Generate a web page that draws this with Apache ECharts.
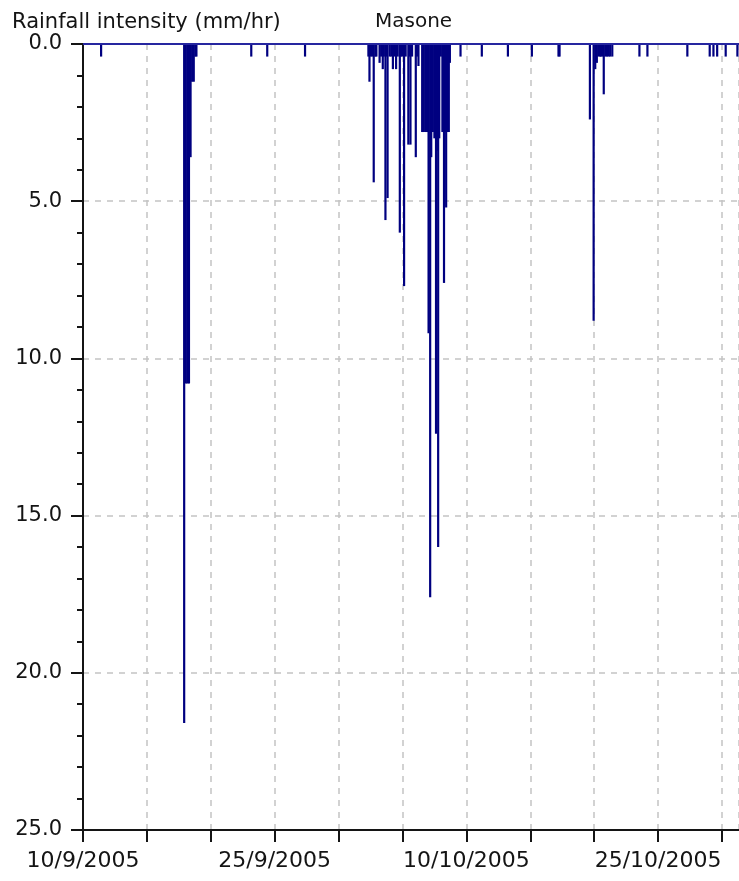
<!DOCTYPE html>
<html>
<head>
<meta charset="utf-8">
<title>Masone rainfall intensity</title>
<script src="https://cdn.jsdelivr.net/npm/echarts@6/dist/echarts.min.js"></script>
<style>
  html, body { margin: 0; padding: 0; background: #ffffff; }
  #chart { width: 739px; height: 881px; }
</style>
</head>
<body>
<div id="chart"></div>
<script>
// Rainfall intensity at Masone, autumn 2005 (mm/hr), one entry per reading time
const times = [
  '2005-09-11 10:00',
  '2005-09-17 22:00', '2005-09-18 01:00', '2005-09-18 04:00', '2005-09-18 07:00',
  '2005-09-18 10:00', '2005-09-18 13:00', '2005-09-18 16:00', '2005-09-18 19:00',
  '2005-09-18 21:00',
  '2005-09-23 04:00', '2005-09-24 10:00', '2005-09-27 09:00',
  '2005-10-02 08:00', '2005-10-02 10:00', '2005-10-02 13:00', '2005-10-02 16:00',
  '2005-10-02 18:00', '2005-10-02 21:00', '2005-10-02 23:00', '2005-10-03 05:00',
  '2005-10-03 08:00', '2005-10-03 11:00', '2005-10-03 13:00', '2005-10-03 16:00',
  '2005-10-03 18:00', '2005-10-03 20:00', '2005-10-04 00:00', '2005-10-04 03:00',
  '2005-10-04 06:00', '2005-10-04 09:00', '2005-10-04 12:00', '2005-10-04 15:00',
  '2005-10-04 19:00', '2005-10-04 21:00', '2005-10-05 00:00', '2005-10-05 03:00',
  '2005-10-05 06:00', '2005-10-05 11:00', '2005-10-05 13:00', '2005-10-05 15:00',
  '2005-10-05 18:00', '2005-10-06 01:00', '2005-10-06 03:00', '2005-10-06 06:00',
  '2005-10-06 13:00', '2005-10-06 16:00', '2005-10-06 19:00', '2005-10-06 22:00',
  '2005-10-07 01:00', '2005-10-07 04:00', '2005-10-07 06:00', '2005-10-07 09:00',
  '2005-10-07 12:00', '2005-10-07 15:00', '2005-10-07 17:00', '2005-10-07 19:00',
  '2005-10-07 21:00', '2005-10-08 00:00', '2005-10-08 03:00', '2005-10-08 06:00',
  '2005-10-08 08:00', '2005-10-08 10:00', '2005-10-08 12:00', '2005-10-08 15:00',
  '2005-10-08 17:00', '2005-10-09 13:00',
  '2005-10-11 05:00', '2005-10-13 06:00', '2005-10-15 03:00', '2005-10-17 05:00',
  '2005-10-17 07:00',
  '2005-10-19 16:00', '2005-10-19 23:00', '2005-10-20 02:00', '2005-10-20 05:00',
  '2005-10-20 08:00', '2005-10-20 11:00', '2005-10-20 13:00', '2005-10-20 16:00',
  '2005-10-20 18:00', '2005-10-20 21:00', '2005-10-21 00:00', '2005-10-21 03:00',
  '2005-10-21 06:00', '2005-10-21 10:00',
  '2005-10-23 13:00', '2005-10-24 04:00', '2005-10-27 07:00', '2005-10-29 01:00',
  '2005-10-29 08:00', '2005-10-29 15:00', '2005-10-30 07:00', '2005-10-31 05:00'
];

const intensity = [
  0.4,
  21.6, 10.8, 10.8, 10.8,
  3.6, 1.2, 1.2, 0.4,
  0.4,
  0.4, 0.4, 0.4,
  0.4, 1.2, 0.4, 0.4,
  4.4, 0.4, 0.4, 0.6,
  0.4, 0.8, 0.4, 5.6,
  0.4, 4.9, 0.4, 0.4,
  0.8, 0.4, 0.8, 0.4,
  6.0, 0.4, 0.4, 7.7,
  0.4, 3.2, 0.4, 3.2,
  0.4, 3.6, 0.4, 0.7,
  2.8, 2.8, 2.8, 2.8,
  9.2, 17.6, 3.6, 2.8,
  3.0, 12.4, 3.4, 16.0,
  3.0, 0.4, 2.8, 7.6,
  2.8, 5.2, 2.8, 2.8,
  0.6, 0.4,
  0.4, 0.4, 0.4, 0.4,
  0.4,
  2.4, 8.8, 0.8, 0.6,
  0.4, 0.4, 0.4, 0.4,
  1.6, 0.4, 0.4, 0.4,
  0.4, 0.4,
  0.4, 0.4, 0.4, 0.4,
  0.4, 0.4, 0.4, 0.4
];

// Date labels shown every third tick (ticks every 5 days)
const dateLabels = ['10/9/2005', '25/9/2005', '10/10/2005', '25/10/2005'];

const startDate = '2005-09-10 00:00';
const endDate = '2005-10-31 08:00';

function toUTC(s) {
  const [d, t] = s.split(' ');
  const [y, m, day] = d.split('-').map(Number);
  const [hh, mm] = t.split(':').map(Number);
  return Date.UTC(y, m - 1, day, hh, mm);
}
const DAY = 86400000;
const t0 = toUTC(startDate);
const dayOf = s => (toUTC(s) - t0) / DAY;

const seriesData = times.map((s, i) => [dayOf(s), intensity[i]]);

const FONT = 'DejaVu Sans';
const INK = '#141414';
const BAR_PX = 2.2;
const chart = echarts.init(document.getElementById('chart'), null, { renderer: 'canvas' });

// Each reading hangs from the zero line as a thin column
function renderColumn(params, api) {
  const top = api.coord([api.value(0), 0]);
  const bottom = api.coord([api.value(0), api.value(1)]);
  return {
    type: 'rect',
    shape: { x: top[0] - BAR_PX / 2, y: top[1], width: BAR_PX, height: bottom[1] - top[1] },
    style: { fill: '#000080' }
  };
}

chart.setOption({
  animation: false,
  backgroundColor: '#ffffff',
  title: [
    {
      text: 'Rainfall intensity (mm/hr)',
      left: 7, top: 7,
      textStyle: { fontFamily: FONT, fontSize: 21, fontWeight: 'normal', color: INK }
    },
    {
      text: 'Masone',
      left: 370, top: 7,
      textStyle: { fontFamily: FONT, fontSize: 20, fontWeight: 'normal', color: INK }
    }
  ],
  grid: { left: 83, right: 0, top: 44, bottom: 51, containLabel: false },
  xAxis: {
    type: 'value',
    min: 0,
    max: dayOf(endDate),
    interval: 5,
    axisLine: { show: true, onZero: false, lineStyle: { color: INK, width: 2 } },
    axisTick: { show: true, length: 12, lineStyle: { color: INK, width: 2 } },
    axisLabel: {
      margin: 20,
      fontFamily: FONT, fontSize: 22, color: INK,
      showMaxLabel: false,
      formatter: v => {
        const k = v / 15;
        return Math.abs(k - Math.round(k)) < 1e-9 ? (dateLabels[Math.round(k)] || '') : '';
      }
    },
    splitLine: { show: true, lineStyle: { color: '#c4c4c4', width: 1.5, type: [6, 6] } }
  },
  yAxis: {
    type: 'value',
    inverse: true,
    min: 0, max: 25, interval: 5,
    axisLine: { show: true, onZero: false, lineStyle: { color: INK, width: 2 } },
    axisTick: { show: true, length: 12, lineStyle: { color: INK, width: 2 } },
    minorTick: { show: true, splitNumber: 5, length: 6, lineStyle: { color: INK, width: 2 } },
    axisLabel: {
      margin: 21,
      fontFamily: FONT, fontSize: 21, color: INK,
      formatter: v => v.toFixed(1)
    },
    splitLine: { show: true, lineStyle: { color: '#c4c4c4', width: 1.5, type: [6, 6] } }
  },
  series: [{
    type: 'custom',
    data: seriesData,
    renderItem: renderColumn,
    encode: { x: 0, y: 1 },
    clip: true,
    silent: true,
    markLine: {
      silent: true,
      symbol: 'none',
      label: { show: false },
      lineStyle: { color: '#2626a0', width: 2, type: 'solid' },
      data: [{ yAxis: 0 }]
    }
  }]
});
</script>
</body>
</html>
